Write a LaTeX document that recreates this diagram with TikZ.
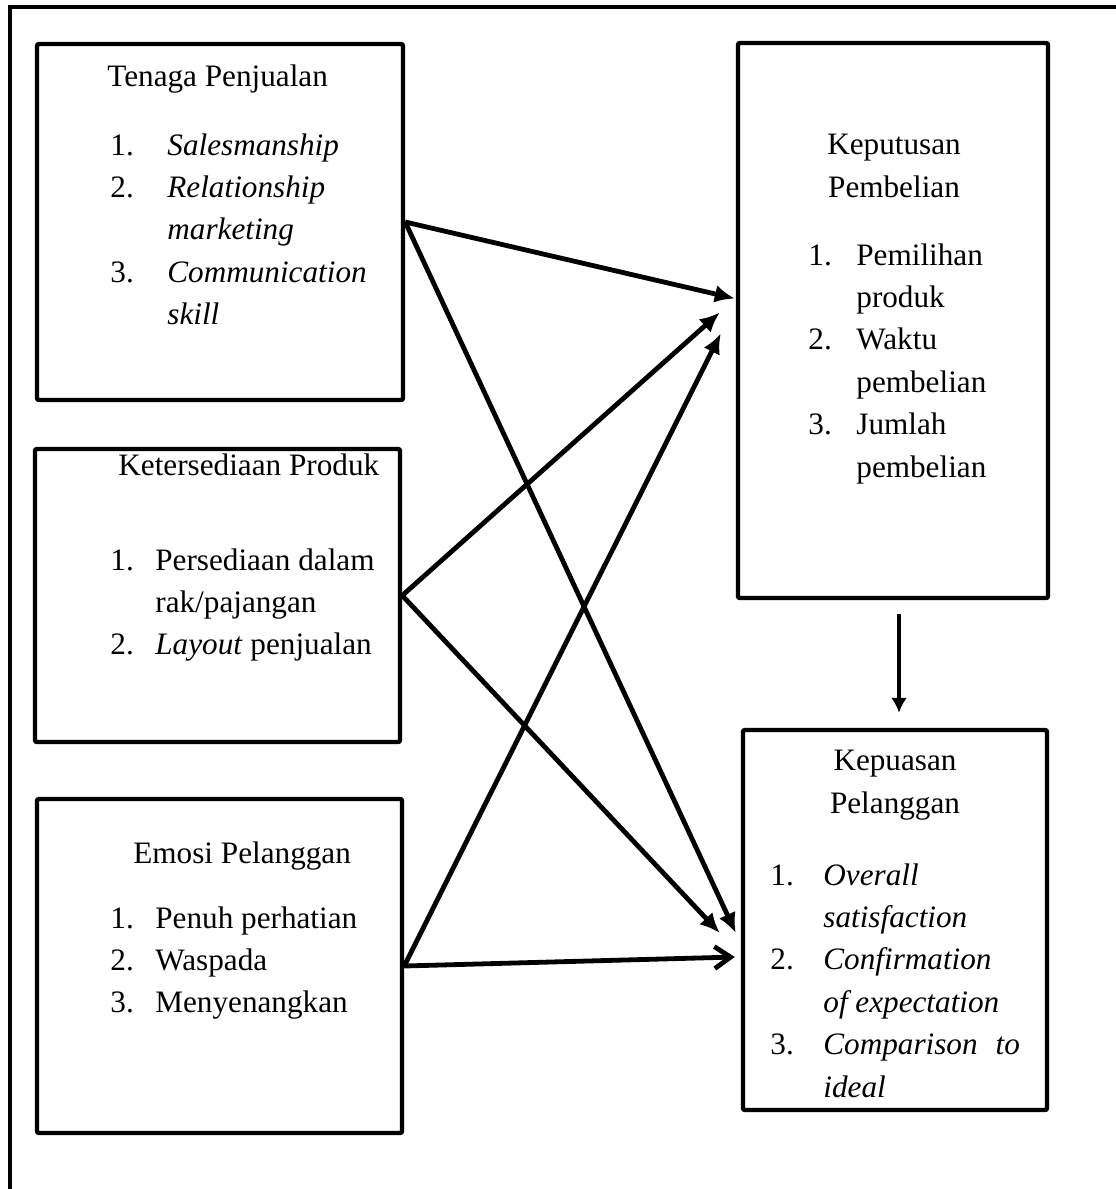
\documentclass[tikz,border=0pt]{standalone}
\usepackage{fontspec}
\setmainfont{Liberation Serif}
\usetikzlibrary{arrows.meta}
\usetikzlibrary{fit}

\begin{document}
\begin{tikzpicture}[x=0.5pt, y=-0.5pt,
    var box/.style={draw, line width=2.2pt, inner sep=0pt, rounded corners=1pt},
    body text/.style={inner sep=0pt, font=\fontsize{15.6}{21.2}\selectfont},
    link/.style={line width=2.4pt, -{Latex[length=10pt, width=9pt]}},
    ]
  \useasboundingbox (0,0) rectangle (1115,1189);
  \draw[line width=2pt] (1125,7) -- (10,7) -- (10,1200);

  \node[var box, fit={(37,44) (403,400)}] (tenaga) {};
  \node[var box, fit={(35,449) (400,742)}] (ketersediaan) {};
  \node[var box, fit={(37,799) (402,1133)}] (emosi) {};
  \node[var box, fit={(738,43) (1048,598)}] (keputusan) {};
  \node[var box, fit={(743,730) (1047,1110)}] (kepuasan) {};

  \node[body text, anchor=base west] (tenaga title) at (107,86) {Tenaga Penjualan};
  \node[body text, anchor=base west] (tenaga list) at (110,155) {\begin{tabular}[t]{@{}p{28.5pt}@{}l@{}}
    1. & \textit{Salesmanship}\\
    2. & \textit{Relationship}\\
       & \textit{marketing}\\
    3. & \textit{Communication}\\
       & \textit{skill}
  \end{tabular}};

  \node[body text, anchor=base west] (ketersediaan title) at (118,475) {Ketersediaan Produk};
  \node[body text, anchor=base west] (ketersediaan list) at (110,570) {\begin{tabular}[t]{@{}p{22.5pt}@{}l@{}}
    1. & Persediaan dalam\\
       & rak/pajangan\\
    2. & \textit{Layout} penjualan
  \end{tabular}};

  \node[body text, anchor=base west] (emosi title) at (133,863) {Emosi Pelanggan};
  \node[body text, anchor=base west] (emosi list) at (110,928) {\begin{tabular}[t]{@{}p{22.5pt}@{}l@{}}
    1. & Penuh perhatian\\
    2. & Waspada\\
    3. & Menyenangkan
  \end{tabular}};

  \node[body text, anchor=base, align=center] (keputusan title) at (894,197) {Keputusan\\Pembelian};
  \node[body text, anchor=base west] (keputusan list) at (808,265) {\begin{tabular}[t]{@{}p{24pt}@{}l@{}}
    1. & Pemilihan\\
       & produk\\
    2. & Waktu\\
       & pembelian\\
    3. & Jumlah\\
       & pembelian
  \end{tabular}};

  \node[body text, anchor=base, align=center] (kepuasan title) at (895,813) {Kepuasan\\Pelanggan};
  \node[body text, anchor=base west] (kepuasan list) at (770,885) {\begin{tabular}[t]{@{}p{26.5pt}@{}l@{}}
    1. & \textit{Overall}\\
       & \textit{satisfaction}\\
    2. & \textit{Confirmation}\\
       & \textit{of expectation}\\
    3. & \textit{Comparison\hspace{9pt}to}\\
       & \textit{ideal}
  \end{tabular}};

  \draw[link] (tenaga.east) -- ([shift={(-1,-22)}]keputusan.west);
  \draw[link] (tenaga.east) -- ([shift={(-5,13)}]kepuasan.west);
  \draw[link] (ketersediaan.east) -- ([shift={(-16,-8)}]keputusan.west);
  \draw[link] (ketersediaan.east) -- ([shift={(-21,13)}]kepuasan.west);
  \draw[link] (emosi.east) -- ([shift={(-15,13)}]keputusan.west);
  \draw[link, -{Straight Barb[length=8pt, width=11pt]}] (emosi.east) -- ([shift={(-6,37)}]kepuasan.west);

  \draw[link, -{Latex[length=7.5pt, width=8pt]}] ([shift={(6,14)}]keputusan.south) -- ([shift={(4,-15)}]kepuasan.north);
\end{tikzpicture}
\end{document}
